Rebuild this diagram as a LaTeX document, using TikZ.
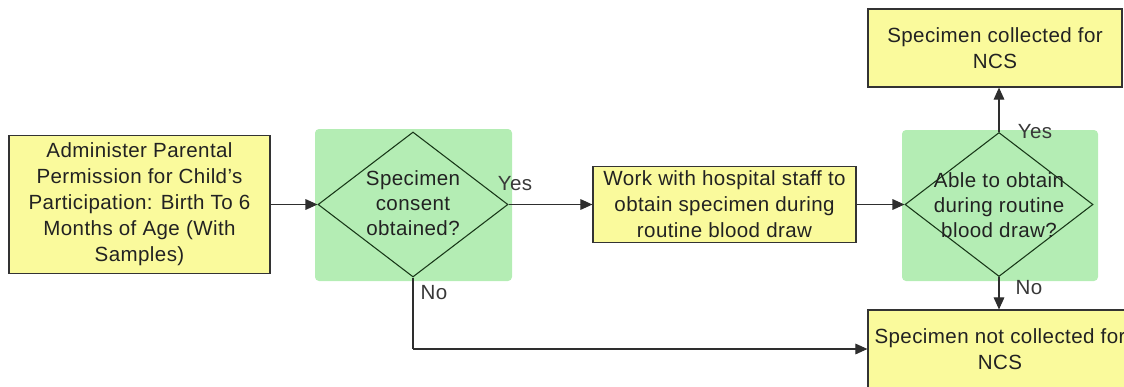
\documentclass[tikz,border=0pt]{standalone}
\usepackage{fontspec}
\setmainfont{Liberation Sans}[LetterSpace=2]
\usetikzlibrary{shapes.geometric,arrows.meta}
\def\PX{0.75pt}
\definecolor{boxyellow}{HTML}{FAFA9C}
\definecolor{decgreen}{HTML}{B4EDB4}
\definecolor{linegray}{HTML}{333333}
\definecolor{textdark}{HTML}{222222}
\tikzset{
  x=0.75pt, y=-0.75pt,
  stepbox/.style={draw=linegray, line width=0.9pt, fill=boxyellow, align=center,
    inner sep=0pt, text=textdark,
    font=\fontsize{15.4pt}{19.5pt}\selectfont},
  decshape/.style={draw=linegray!80!green!60!black, line width=0.8pt, diamond, inner sep=0pt},
  dectext/.style={align=center, text=textdark, inner sep=0pt,
    font=\fontsize{15.4pt}{19pt}\selectfont},
  lbl/.style={text=textdark!90, inner sep=0pt, font=\fontsize{15.4pt}{16pt}\selectfont},
  conn/.style={draw=linegray!90!black, line width=0.8pt, -{Triangle[length=9pt,width=8pt]}},
  plain/.style={draw=linegray!90!black, line width=0.8pt},
}
\begin{document}
\begin{tikzpicture}
\useasboundingbox (0,0) rectangle (1124,386);
\clip (0,0) rectangle (1124,386);
% green backgrounds
\fill[decgreen, rounded corners=3pt] (315,129) rectangle (512,281);
\fill[decgreen, rounded corners=3pt] (902,130) rectangle (1098,281);
% boxes
\node[stepbox, minimum width=261*\PX, minimum height=138*\PX] (perm) at (139.5,204.5)
  {Administer Parental\\Permission for Child’s\\Participation: Birth To 6\\Months of Age (With\\Samples)};
\node[decshape, minimum width=190*\PX, minimum height=145*\PX] (cons) at (413,204.5) {};
\node[dectext] (consT) at (413,203) {Specimen\\consent\\obtained?};
\node[stepbox, minimum width=263*\PX, minimum height=76*\PX] (work) at (724.5,204.5)
  {Work with hospital staff to\\obtain specimen during\\routine blood draw};
\node[decshape, minimum width=188*\PX, minimum height=144*\PX] (able) at (999,204.5) {};
\node[dectext] (ableT) at (999,205) {Able to obtain\\during routine\\blood draw?};
\node[stepbox, minimum width=254*\PX, minimum height=78*\PX] (coll) at (995,48)
  {Specimen collected for\\NCS};
\node[stepbox, minimum width=264*\PX, minimum height=78*\PX] (notc) at (1000,349)
  {Specimen not collected for\\NCS};
\coordinate (corner) at (cons.south |- notc.west);
% connectors
\draw[conn] (perm.east) -- (cons.west);
\draw[conn] (cons.east) -- (work.west);
\draw[conn] (work.east) -- (able.west);
\draw[conn] (able.north) -- (able.north |- coll.south);
\draw[conn] (able.south) -- (able.south |- notc.north);
\draw[plain] (cons.south) -- (corner);
\draw[conn] (corner) -- (notc.west);
% labels
\node[lbl] (y1) at (515,184) {Yes};
\node[lbl] (n1) at (434,293) {No};
\node[lbl] (y2) at (1035,132) {Yes};
\node[lbl] (n2) at (1029,288) {No};
\end{tikzpicture}
\end{document}
